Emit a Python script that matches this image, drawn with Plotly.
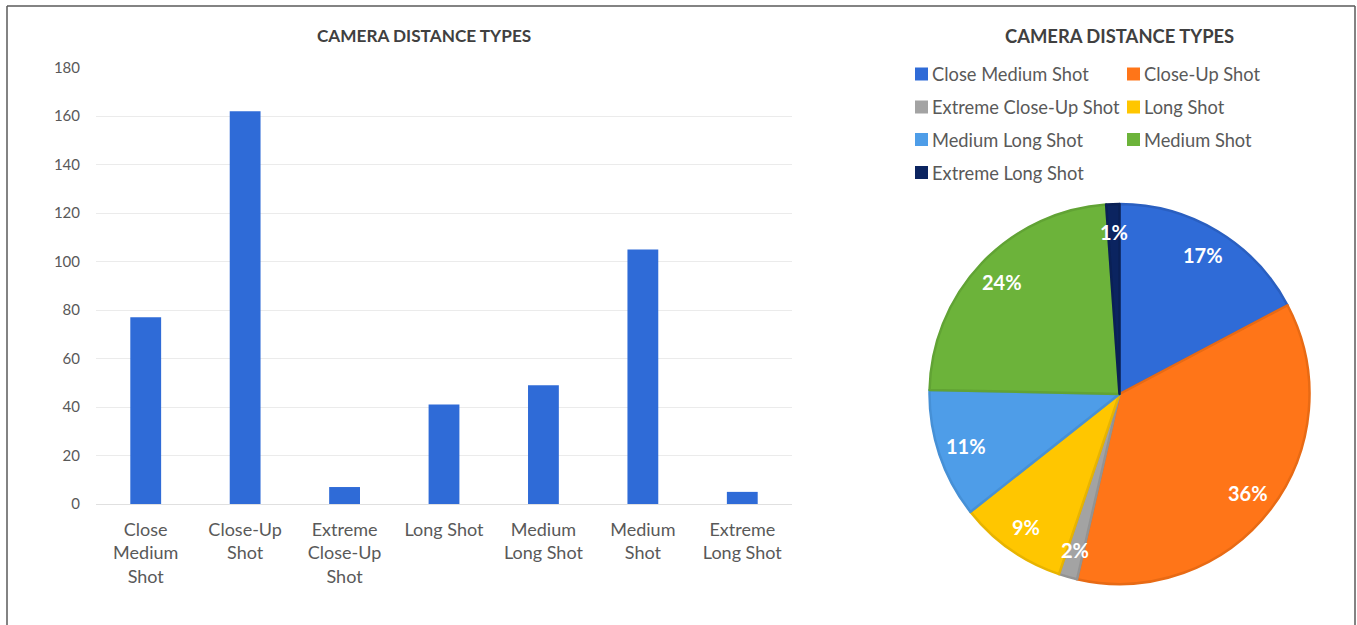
import numpy as np
import plotly.graph_objects as go

# ---- data ----
categories = ["Close Medium Shot", "Close-Up Shot", "Extreme Close-Up Shot", "Long Shot",
              "Medium Long Shot", "Medium Shot", "Extreme Long Shot"]
counts = [77, 162, 7, 41, 49, 105, 5]
tick_labels = ["Close<br>Medium<br>Shot", "Close-Up<br>Shot", "Extreme<br>Close-Up<br>Shot",
               "Long Shot", "Medium<br>Long Shot", "Medium<br>Shot", "Extreme<br>Long Shot"]
y_ticks = [0, 20, 40, 60, 80, 100, 120, 140, 160, 180]
title_text = "CAMERA DISTANCE TYPES"

# ---- styles ----
W, H = 1357, 625
FONT = "Lato, 'Open Sans', sans-serif"
bar_color = "#2F6BD7"
pie_colors = ["#2F6BD7", "#FF7518", "#A3A3A3", "#FFC600", "#4E9DE8", "#6CB33A", "#0B2460"]
pie_edges = ["#2A5FC0", "#E86A14", "#939393", "#E8B400", "#4690D6", "#61A334", "#0A2055"]
text_gray = "#595959"
title_gray = "#404040"


def px(x):
    return x / W


def py(y):
    return 1 - y / H


fig = go.Figure()

fig.add_trace(go.Bar(
    x=categories, y=counts, marker=dict(color=bar_color, line=dict(width=0)),
    xaxis="x", yaxis="y", showlegend=False, hoverinfo="x+y",
))

fig.add_trace(go.Pie(
    labels=categories, values=counts, sort=False, direction="clockwise", rotation=0,
    marker=dict(colors=pie_colors, line=dict(color=pie_edges, width=2.5)),
    textinfo="none", showlegend=False,
    domain=dict(x=[px(929.5), px(1309.5)], y=[py(584), py(204)]),
))

# pie percentage labels, placed from the data (angles from cumulative share)
cx, cy, rr = 1119.5, 394.0, 190.0 * 0.855
vals = np.array(counts, dtype=float)
share = vals / vals.sum()
mid = (np.cumsum(share) - share / 2) * 2 * np.pi
annotations = []
for s, a in zip(share, mid):
    annotations.append(dict(
        x=px(cx + rr * np.sin(a)), y=py(cy - rr * np.cos(a)), xref="paper", yref="paper",
        text=f"<b>{s:.0%}</b>", showarrow=False, xanchor="center", yanchor="middle",
        font=dict(family=FONT, size=20, color="white"),
    ))

# titles
annotations.append(dict(x=px(424), y=py(36), xref="paper", yref="paper", text=f"<b>{title_text}</b>",
                        showarrow=False, xanchor="center", yanchor="middle",
                        font=dict(family=FONT, size=17.2, color=title_gray)))
annotations.append(dict(x=px(1119), y=py(36), xref="paper", yref="paper", text=f"<b>{title_text}</b>",
                        showarrow=False, xanchor="center", yanchor="middle",
                        font=dict(family=FONT, size=18.4, color=title_gray)))

# legend (two columns) for the pie
shapes = []
col_x = [915, 1127]
row_y = [74, 107, 139.5, 172.5]
sq = 13
for i, (name, col) in enumerate(zip(categories, pie_colors)):
    cxl = col_x[i % 2]
    ry = row_y[i // 2]
    shapes.append(dict(type="rect", xref="paper", yref="paper",
                       x0=px(cxl), x1=px(cxl + sq), y0=py(ry + sq / 2), y1=py(ry - sq / 2),
                       fillcolor=col, line=dict(width=0)))
    annotations.append(dict(x=px(cxl + sq + 2), y=py(ry), xref="paper", yref="paper", text=name,
                            showarrow=False, xanchor="left", yanchor="middle",
                            font=dict(family=FONT, size=18.3, color=text_gray)))

# outer border (left, top, right edges; bottom runs off the picture)
bx0, by0, bx1 = 7, 6, 1355
border = dict(color="#5A5A5A", width=1.5)
for (xa, ya, xb, yb) in [(bx0, by0, bx0, 625), (bx0, by0, bx1, by0), (bx1, by0, bx1, 625)]:
    shapes.append(dict(type="line", xref="paper", yref="paper", x0=px(xa), y0=py(ya),
                       x1=px(xb), y1=py(yb), line=border, layer="above"))

fig.update_layout(
    width=W, height=H, margin=dict(l=0, r=0, t=0, b=0, autoexpand=False),
    paper_bgcolor="white", plot_bgcolor="white",
    font=dict(family=FONT, color=text_gray),
    bargap=0.69,
    xaxis=dict(domain=[px(96), px(792)], tickmode="array", tickvals=categories, ticktext=tick_labels,
               showgrid=False, zeroline=False, showline=False, ticks="",
               tickfont=dict(family=FONT, size=18, color=text_gray), ticklabelstandoff=13,
               fixedrange=True),
    yaxis=dict(domain=[py(504), py(67.7)], range=[0, 180], tickmode="array", tickvals=y_ticks,
               showgrid=True, gridcolor="#EBEBEB", gridwidth=1, zeroline=True, zerolinecolor="#E0E0E0",
               zerolinewidth=1, showline=False, ticks="",
               tickfont=dict(family=FONT, size=15, color=text_gray), ticklabelstandoff=15,
               fixedrange=True),
    annotations=annotations,
    shapes=shapes,
)

fig.write_html("out.html", config={"displayModeBar": False},
               post_script="document.body.style.margin='0px';")
